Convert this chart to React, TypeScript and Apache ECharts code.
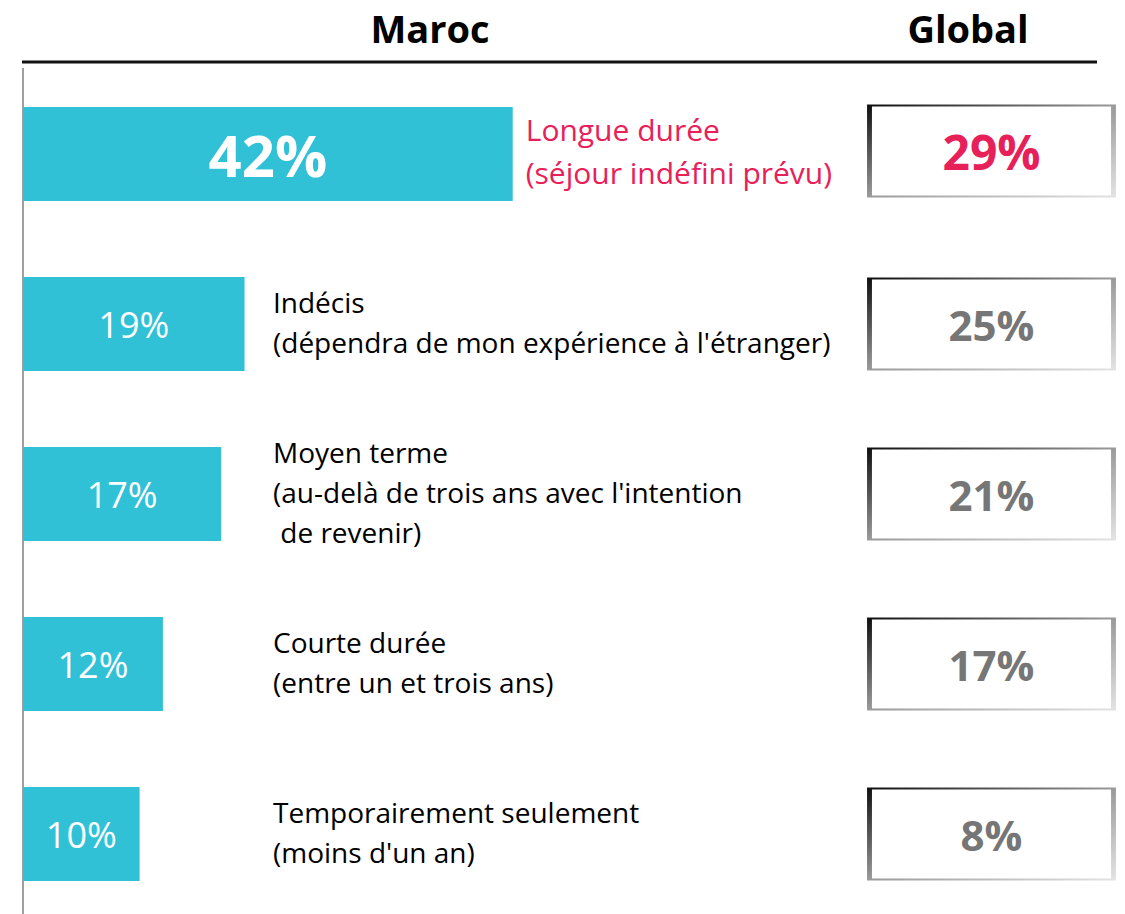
import React, { useEffect, useRef } from "react";
import * as echarts from "echarts";

const categories = [
  "Longue durée\n(séjour indéfini prévu)",
  "Indécis\n(dépendra de mon expérience à l'étranger)",
  "Moyen terme\n(au-delà de trois ans avec l'intention\n de revenir)",
  "Courte durée\n(entre un et trois ans)",
  "Temporairement seulement\n(moins d'un an)",
];
const marocValues = [42, 19, 17, 12, 10];
const globalValues = [29, 25, 21, 17, 8];
const headers = ["Maroc", "Global"];

const FONT = "'Open Sans', sans-serif";
const TEAL = "#31C1D7";
const RED = "#E8205A";
const GREY = "#767676";

export default function App() {
  const ref = useRef<HTMLDivElement>(null);
  useEffect(() => {
    if (!ref.current) return;
    const chart = echarts.init(ref.current, undefined, { renderer: "svg" });
    const border = new echarts.graphic.LinearGradient(0, 0, 1, 1, [
      { offset: 0, color: "#111111" },
      { offset: 0.5, color: "#9a9a9a" },
      { offset: 1, color: "#e2e2e2" },
    ]);
    const option: any = {
      animation: false,
      textStyle: { fontFamily: FONT },
      grid: [
        { left: 23, top: 154, width: 583, height: 680 },
        { left: 868, top: 154, width: 247, height: 680 },
      ],
      xAxis: [
        { type: "value", gridIndex: 0, min: 0, max: 50, show: false },
        { type: "value", gridIndex: 1, min: 0, max: 1, show: false },
      ],
      yAxis: [
        {
          type: "category",
          gridIndex: 0,
          data: categories,
          inverse: true,
          boundaryGap: false,
          axisLine: { show: false },
          axisTick: { show: false },
          axisLabel: { show: false },
          splitLine: { show: false },
        },
        {
          type: "category",
          gridIndex: 1,
          data: categories,
          inverse: true,
          boundaryGap: false,
          show: false,
        },
      ],
      graphic: [
        {
          type: "text",
          x: 430,
          y: 28,
          style: {
            text: headers[0],
            fontFamily: FONT,
            fontSize: 38,
            fontWeight: "bold",
            fill: "#000",
            align: "center",
            verticalAlign: "middle",
          },
        },
        {
          type: "text",
          x: 968,
          y: 28,
          style: {
            text: headers[1],
            fontFamily: FONT,
            fontSize: 38,
            fontWeight: "bold",
            fill: "#000",
            align: "center",
            verticalAlign: "middle",
          },
        },
        {
          type: "line",
          shape: { x1: 22, y1: 62, x2: 1097, y2: 62 },
          style: { stroke: "#111", lineWidth: 3 },
        },
        {
          type: "line",
          shape: { x1: 23, y1: 68, x2: 23, y2: 914 },
          style: { stroke: "#a0a0a0", lineWidth: 2 },
        },
      ],
      series: [
        {
          type: "bar",
          xAxisIndex: 0,
          yAxisIndex: 0,
          barWidth: 94,
          itemStyle: { color: TEAL },
          data: marocValues.map((v, i) => ({
            value: v,
            label: {
              show: true,
              position: "inside",
              formatter: "{c}%",
              color: "#fff",
              fontFamily: FONT,
              fontSize: i === 0 ? 58 : 36,
              fontWeight: i === 0 ? "bold" : "normal",
            },
          })),
        },
        {
          type: "bar",
          xAxisIndex: 0,
          yAxisIndex: 0,
          barWidth: 94,
          barGap: "-100%",
          silent: true,
          itemStyle: { color: "rgba(0,0,0,0)" },
          data: marocValues.map((v, i) => ({
            value: v,
            label:
              i === 0
                ? {
                    show: true,
                    position: "right",
                    distance: 13,
                    offset: [0, -3],
                    formatter: categories[i],
                    color: RED,
                    fontFamily: FONT,
                    fontSize: 30,
                    lineHeight: 43,
                    align: "left",
                    verticalAlign: "middle",
                  }
                : {
                    show: true,
                    position: [250, "50%"],
                    offset: [0, -2],
                    formatter: categories[i],
                    color: "#000",
                    fontFamily: FONT,
                    fontSize: 28,
                    lineHeight: 40,
                    align: "left",
                    verticalAlign: "middle",
                  },
          })),
        },
        {
          type: "scatter",
          xAxisIndex: 1,
          yAxisIndex: 1,
          symbol: "rect",
          symbolSize: [244, 91],
          itemStyle: {
            color: "#fff",
            borderColor: border,
            borderWidth: 3,
            opacity: 1,
          },
          data: globalValues.map((v, i) => ({
            value: [0.5, i],
            symbolOffset: i === 0 ? [0, -3] : [0, 0],
            label: {
              show: true,
              position: "inside",
              formatter: v + "%",
              color: i === 0 ? RED : GREY,
              fontFamily: FONT,
              fontSize: i === 0 ? 48 : 42,
              fontWeight: "bold",
            },
          })),
        },
      ],
    };
    chart.setOption(option);
    return () => chart.dispose();
  }, []);
  return (
    <div
      ref={ref}
      style={{ position: "absolute", left: 0, top: 0, width: 1125, height: 914 }}
    />
  );
}
